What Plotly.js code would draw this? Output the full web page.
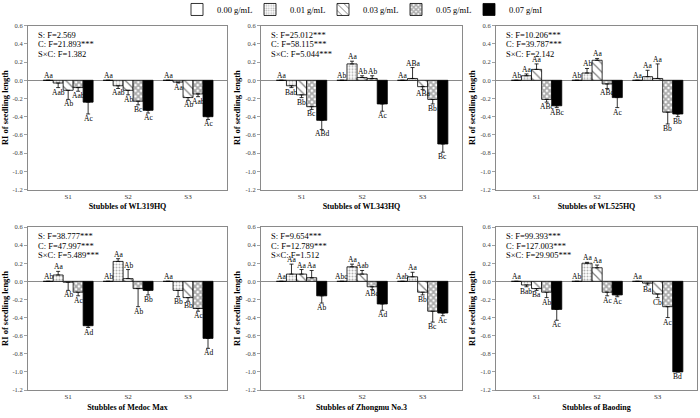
<!DOCTYPE html>
<html>
<head>
<meta charset="utf-8">
<script src="https://cdn.plot.ly/plotly-3.0.1.min.js"></script>
<style>html,body{margin:0;padding:0;background:#fff;}#chart{width:700px;height:418px;}</style>
</head>
<body>
<div id="chart"></div>
<script>
// ---------- data ----------
const categories = ['S1', 'S2', 'S3'];
const concLabels = ['0.00 g/mL', '0.01 g/mL', '0.03 g/mL', '0.05 g/mL', '0.07 g/mL'];
const panelTitles = ['Stubbles of WL319HQ', 'Stubbles of WL343HQ', 'Stubbles of WL525HQ',
                     'Stubbles of Medoc Max', 'Stubbles of Zhongmu No.3', 'Stubbles of Baoding'];
const yTickVals = [-1.2, -1.0, -0.8, -0.6, -0.4, -0.2, 0.0, 0.2, 0.4, 0.6];
const yTickText = ['-1.2', '-1.0', '-0.8', '-0.6', '-0.4', '-0.2', '0.0', '0.2', '0.4', '0.6'];

// rows: 0.00, 0.01, 0.03, 0.05, 0.07 g/mL ; columns: S1, S2, S3
const wl319Values = [[0, 0, 0], [-0.03, -0.06, -0.02], [-0.11, -0.11, -0.19], [-0.08, -0.23, -0.15], [-0.24, -0.33, -0.40]];
const wl319Errors = [[0, 0, 0], [0.05, 0.03, 0.01], [0.10, 0.05, 0.03], [0.04, 0.04, 0.03], [0.13, 0.03, 0.03]];
const wl319Letters = [['Aa', 'Aa', 'Aa'], ['Aab', 'Aab', 'Aa'], ['Ab', 'Ab', 'Ab'], ['Aab', 'Bc', 'Aab'], ['Ac', 'Ac', 'Ac']];

const wl343Values = [[0, 0, 0], [-0.06, 0.18, 0.02], [-0.16, 0.03, -0.07], [-0.29, 0.02, -0.21], [-0.44, -0.26, -0.70]];
const wl343Errors = [[0, 0, 0], [0.02, 0.03, 0.12], [0.03, 0.02, 0.03], [0.03, 0.03, 0.05], [0.10, 0.08, 0.09]];
const wl343Letters = [['Aa', 'Ab', 'Aa'], ['Bab', 'Aa', 'ABa'], ['Bb', 'Ab', 'ABa'], ['Bc', 'Ab', 'Bb'], ['ABd', 'Ac', 'Bc']];

const wl525Values = [[0, 0, 0], [0.05, 0.08, 0.04], [0.12, 0.22, 0.02], [-0.21, -0.04, -0.35], [-0.28, -0.19, -0.37]];
const wl525Errors = [[0, 0, 0], [0.02, 0.05, 0.07], [0.06, 0.02, 0.16], [0.03, 0.05, 0.13], [0.02, 0.11, 0.03]];
const wl525Letters = [['Ab', 'Ab', 'Aa'], ['Aa', 'Ab', 'Aa'], ['Aa', 'Aa', 'Aa'], ['ABc', 'ABc', 'Bb'], ['ABc', 'Ac', 'Bb']];

const medocValues = [[0, 0, 0], [0.07, 0.22, -0.10], [-0.01, 0.03, -0.18], [-0.12, -0.08, -0.30], [-0.49, -0.10, -0.63]];
const medocErrors = [[0, 0, 0], [0.04, 0.03, 0.07], [0.09, 0.10, 0.04], [0.04, 0.20, 0.03], [0.02, 0.05, 0.11]];
const medocLetters = [['Ab', 'Ab', 'Aa'], ['Aa', 'Aa', 'Bb'], ['Ab', 'Ab', 'Bb'], ['Ac', 'Ab', 'Ac'], ['Ad', 'Bb', 'Ad']];

const zhongmuValues = [[0, 0, 0], [0.08, 0.16, 0.05], [0.08, 0.08, -0.12], [0.04, -0.06, -0.33], [-0.16, -0.25, -0.35]];
const zhongmuErrors = [[0, 0, 0], [0.11, 0.03, 0.05], [0.05, 0.04, 0.03], [0.08, 0.03, 0.12], [0.08, 0.07, 0.03]];
const zhongmuLetters = [['Aa', 'Abc', 'Aab'], ['Aa', 'Aa', 'Aa'], ['Aa', 'Aab', 'Bb'], ['Aa', 'ABc', 'Bc'], ['Ab', 'Ad', 'Ac']];

const baodingValues = [[0, 0, 0], [-0.04, 0.20, -0.02], [-0.08, 0.15, -0.14], [-0.12, -0.12, -0.28], [-0.31, -0.15, -1.00]];
const baodingErrors = [[0, 0, 0], [0.02, 0.01, 0.02], [0.02, 0.03, 0.04], [0.06, 0.04, 0.12], [0.12, 0.02, 0.00]];
const baodingLetters = [['Aa', 'Ab', 'Aa'], ['Bab', 'Aa', 'Ba'], ['Ba', 'Aa', 'Cb'], ['Ab', 'Ac', 'Ac'], ['Ac', 'Ac', 'Bd']];

const statsWL319 = ['S: F=2.569', 'C: F=21.893***', 'S×C: F=1.382'];
const statsWL343 = ['S: F=25.012***', 'C: F=58.115***', 'S×C: F=5.044***'];
const statsWL525 = ['S: F=10.206***', 'C: F=39.787***', 'S×C: F=2.142'];
const statsMedoc = ['S: F=38.777***', 'C: F=47.997***', 'S×C: F=5.489***'];
const statsZhongmu = ['S: F=9.654***', 'C: F=12.789***', 'S×C: F=1.512'];
const statsBaoding = ['S: F=99.393***', 'C: F=127.003***', 'S×C: F=29.905***'];

// ---------- build ----------
const panels = [
  {v: wl319Values, e: wl319Errors, l: wl319Letters, s: statsWL319},
  {v: wl343Values, e: wl343Errors, l: wl343Letters, s: statsWL343},
  {v: wl525Values, e: wl525Errors, l: wl525Letters, s: statsWL525},
  {v: medocValues, e: medocErrors, l: medocLetters, s: statsMedoc},
  {v: zhongmuValues, e: zhongmuErrors, l: zhongmuLetters, s: statsZhongmu},
  {v: baodingValues, e: baodingErrors, l: baodingLetters, s: statsBaoding}
];

const W = 700, H = 418;
const xDom = [[28, 227], [261, 462], [496, 697]];
const yDom = [[25.7, 189.5], [227, 390]];
const serif = 'Liberation Serif, Times New Roman, serif';

const markerStyles = [
  {color: '#ffffff', line: {color: '#000', width: 0.8}},
  {color: '#ffffff', line: {color: '#000', width: 0.8}, pattern: {shape: '.', size: 3, solidity: 0.35, fgcolor: '#666', bgcolor: '#fff', fillmode: 'overlay'}},
  {color: '#ffffff', line: {color: '#000', width: 0.8}, pattern: {shape: '\\', size: 6, solidity: 0.2, fgcolor: '#000', bgcolor: '#fff', fillmode: 'overlay'}},
  {color: '#ffffff', line: {color: '#000', width: 0.8}, pattern: {shape: 'x', size: 4, solidity: 0.7, fgcolor: '#555', bgcolor: '#fff', fillmode: 'overlay'}},
  {color: '#000000', line: {color: '#000', width: 0.8}}
];

const bargap = 0.167;
const xRange = [-0.67, 2.65];
const catPos = categories.map((c, i) => i);

const traces = [];
const annotations = [];
const layout = {
  width: W, height: H,
  margin: {l: 0, r: 0, t: 0, b: 0, autoexpand: false},
  barmode: 'group', bargap: bargap, bargroupgap: 0,
  paper_bgcolor: '#fff', plot_bgcolor: '#fff',
  font: {family: serif, color: '#000', size: 8},
  showlegend: true,
  legend: {
    orientation: 'h', x: 177 / W, xanchor: 'left', y: 1.012, yanchor: 'top',
    font: {family: serif, size: 8.5, color: '#000'},
    entrywidth: 28, entrywidthmode: 'pixels', itemwidth: 30,
    bgcolor: 'rgba(0,0,0,0)', tracegroupgap: 0
  },
  annotations: annotations
};

panels.forEach((p, k) => {
  const n = k + 1;
  const col = k % 3, row = Math.floor(k / 3);
  const xa = 'xaxis' + (n === 1 ? '' : n), ya = 'yaxis' + (n === 1 ? '' : n);
  const xr = 'x' + (n === 1 ? '' : n), yr = 'y' + (n === 1 ? '' : n);
  layout[xa] = {
    domain: [xDom[col][0] / W, xDom[col][1] / W], anchor: yr,
    range: xRange, tickvals: catPos, ticktext: categories, ticks: '',
    showline: true, mirror: true, linecolor: '#8a8a8a', linewidth: 1,
    showgrid: false, zeroline: false,
    tickfont: {family: serif, size: 7, color: '#333'},
    title: {text: '<b>' + panelTitles[k] + '</b>', font: {family: serif, size: 8, color: '#000'}, standoff: 3}
  };
  layout[ya] = {
    domain: [1 - yDom[row][1] / H, 1 - yDom[row][0] / H], anchor: xr,
    range: [-1.2, 0.6], tickvals: yTickVals, ticktext: yTickText,
    ticks: 'outside', ticklen: 3, tickcolor: '#8a8a8a', tickwidth: 0.8,
    showline: true, mirror: true, linecolor: '#8a8a8a', linewidth: 1,
    showgrid: false, zeroline: true, zerolinecolor: '#8a8a8a', zerolinewidth: 1.2,
    tickfont: {family: serif, size: 6.5, color: '#444'},
    title: {text: '<b>RI of seedling length</b>', font: {family: serif, size: 8.5, color: '#000'}, standoff: 3}
  };
  const bw = (1 - bargap) / concLabels.length;
  p.v.forEach((vals, i) => {
    const errs = p.e[i];
    traces.push({
      type: 'bar', name: concLabels[i], x: catPos, y: vals,
      xaxis: xr, yaxis: yr, legendgroup: 'c' + i, showlegend: k === 0,
      marker: markerStyles[i],
      error_y: {
        type: 'data', symmetric: false,
        array: vals.map((v, j) => v >= 0 ? errs[j] : 0),
        arrayminus: vals.map((v, j) => v < 0 ? errs[j] : 0),
        color: '#000', thickness: 0.8, width: 2
      },
      hoverinfo: 'skip'
    });
    vals.forEach((v, j) => {
      const off = (i - (concLabels.length - 1) / 2) * bw;
      annotations.push({
        xref: xr, yref: yr, x: catPos[j] + off, y: v >= 0 ? v + errs[j] : v - errs[j],
        text: p.l[i][j], showarrow: false,
        yanchor: v >= 0 ? 'bottom' : 'top', xanchor: 'center',
        borderpad: 0, yshift: v >= 0 ? -1 : 1,
        font: {family: serif, size: 7.5, color: '#000'}
      });
    });
  });
  p.s.forEach((line, li) => {
    annotations.push({
      xref: xr + ' domain', yref: yr + ' domain', x: 0.045, y: 1,
      yshift: -3 - li * 9.7, xanchor: 'left', yanchor: 'top',
      text: line, showarrow: false, borderpad: 0,
      font: {family: serif, size: 8.5, color: '#000'}
    });
  });
});

Plotly.newPlot('chart', traces, layout, {staticPlot: true, displayModeBar: false});
</script>
</body>
</html>
